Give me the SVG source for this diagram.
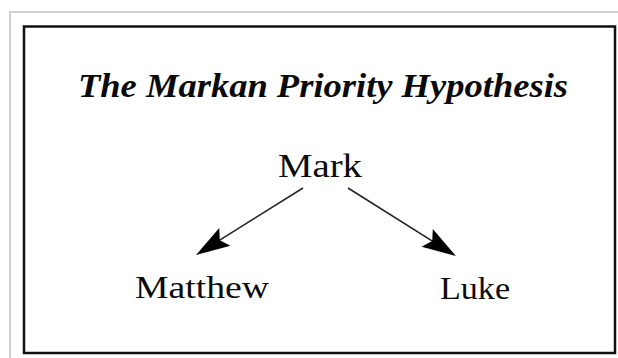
<svg xmlns="http://www.w3.org/2000/svg" width="618" height="358" viewBox="0 0 618 358">
  <style>
    .lbl { font-family: "Liberation Serif", "Times New Roman", serif; fill: #0a0a0a; text-anchor: middle; }
    .title { font-family: "Liberation Serif", "Times New Roman", serif; font-weight: bold; font-style: italic; fill: #0a0a0a; text-anchor: middle; }
    .conn { stroke: #222; stroke-width: 1.5; fill: none; marker-end: url(#head); }
  </style>
  <defs>
    <marker id="head" markerUnits="userSpaceOnUse" viewBox="-25 -12 37 24" markerWidth="37" markerHeight="24" refX="0" refY="0" orient="auto">
      <path d="M10,0 L-24,-10.5 L-18,0 L-24,10.5 Z" fill="#000"/>
    </marker>
  </defs>
  <rect width="618" height="358" fill="#fff"/>
  <g id="page-frame">
    <path d="M10,358 L10,12 L618,12" stroke="#d0d0d0" stroke-width="2" fill="none"/>
  </g>
  <g id="figure-border">
    <rect x="24" y="26.5" width="591" height="326.5" fill="none" stroke="#111" stroke-width="2.5"/>
  </g>
  <g id="title">
    <text class="title" x="323" y="97" font-size="34" textLength="490" lengthAdjust="spacingAndGlyphs">The Markan Priority Hypothesis</text>
  </g>
  <g id="connectors">
    <line class="conn" x1="303" y1="188" x2="204.5" y2="249.7"/>
    <line class="conn" x1="348" y1="188" x2="447.5" y2="250.7"/>
  </g>
  <g id="node-mark">
    <text class="lbl" x="320" y="177" font-size="33" textLength="84" lengthAdjust="spacingAndGlyphs">Mark</text>
  </g>
  <g id="node-matthew">
    <text class="lbl" x="202" y="298" font-size="32" textLength="134" lengthAdjust="spacingAndGlyphs">Matthew</text>
  </g>
  <g id="node-luke">
    <text class="lbl" x="475" y="299" font-size="32" textLength="70" lengthAdjust="spacingAndGlyphs">Luke</text>
  </g>
</svg>
